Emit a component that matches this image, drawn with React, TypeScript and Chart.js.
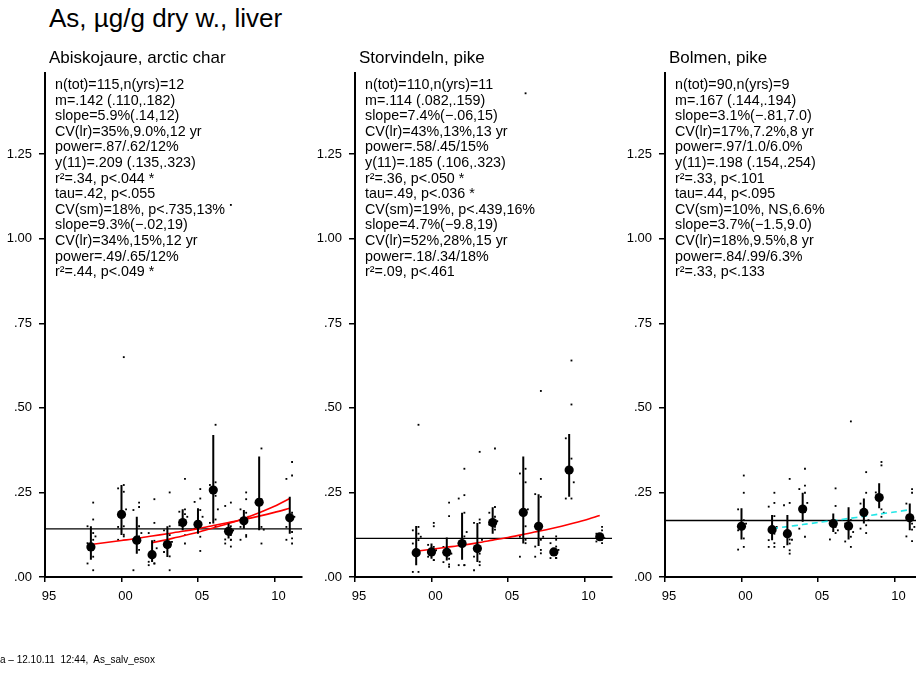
import React, { useEffect, useRef } from 'react';
import { Chart, registerables } from 'chart.js';
Chart.register(...registerables);

// ---------- axes ----------
const xTickValues = [1995, 2000, 2005, 2010];
const xTickLabels = ['95', '00', '05', '10'];
const yTickValues = [0, 0.25, 0.5, 0.75, 1.0, 1.25];
const yTickLabels = ['.00', '.25', '.50', '.75', '1.00', '1.25'];
const X_MIN = 1995;
const X_MAX = 2011.8;
const Y_MIN = 0;
const Y_MAX = 1.49;

const mainTitle = 'As, µg/g dry w., liver';
const footerText = 'a – 12.10.11  12:44,  As_salv_esox';

// ---------- panel 1: Abiskojaure, arctic char ----------
const p1Title = 'Abiskojaure, arctic char';
const p1Years = [1998, 2000, 2001, 2002, 2003, 2004, 2005, 2006, 2007, 2008, 2009, 2011];
const p1Means = [0.089, 0.185, 0.109, 0.066, 0.096, 0.161, 0.156, 0.257, 0.135, 0.166, 0.221, 0.175];
const p1Low = [0.051, 0.124, 0.069, 0.044, 0.059, 0.138, 0.128, 0.158, 0.114, 0.143, 0.138, 0.128];
const p1High = [0.150, 0.272, 0.178, 0.109, 0.150, 0.200, 0.203, 0.420, 0.158, 0.198, 0.356, 0.237];
const p1Dots = [
  [0.22, 0.17, 0.15, 0.13, 0.12, 0.11, 0.10, 0.09, 0.06, 0.04, 0.02],
  [0.65, 0.272, 0.262, 0.252, 0.20, 0.15, 0.148, 0.125, 0.12, 0.11],
  [0.22, 0.207, 0.198, 0.15, 0.13, 0.12, 0.11, 0.10, 0.08, 0.02],
  [0.23, 0.16, 0.13, 0.107, 0.085, 0.06, 0.045, 0.04, 0.04, 0.035],
  [0.25, 0.15, 0.138, 0.124, 0.104, 0.089, 0.074, 0.061, 0.02],
  [0.29, 0.20, 0.193, 0.186, 0.178, 0.168, 0.153, 0.124, 0.099],
  [0.26, 0.232, 0.222, 0.198, 0.178, 0.158, 0.143, 0.119, 0.077],
  [0.45, 0.28, 0.272, 0.24, 0.20, 0.17, 0.16, 0.15],
  [1.10, 0.22, 0.21, 0.15, 0.138, 0.124, 0.111, 0.11, 0.11, 0.099, 0.09],
  [0.25, 0.23, 0.20, 0.19, 0.178, 0.168, 0.148, 0.124, 0.119, 0.11],
  [0.38, 0.23, 0.22, 0.148, 0.14, 0.099],
  [0.34, 0.30, 0.29, 0.19, 0.178, 0.168, 0.148, 0.133, 0.114, 0.11, 0.099],
];
const p1Mean = 0.142;
const p1TrendAYears = [1998, 1999, 2000, 2001, 2002, 2003, 2004, 2005, 2006, 2007, 2008, 2009, 2010, 2011];
const p1TrendAValues = [0.096, 0.102, 0.108, 0.114, 0.121, 0.128, 0.135, 0.143, 0.152, 0.161, 0.170, 0.180, 0.191, 0.203];
const p1TrendBYears = [2002, 2003, 2004, 2005, 2006, 2007, 2008, 2009, 2010, 2011];
const p1TrendBValues = [0.101, 0.111, 0.121, 0.132, 0.145, 0.158, 0.173, 0.190, 0.209, 0.232];
const p1Stats = [
  'n(tot)=115,n(yrs)=12',
  'm=.142 (.110,.182)',
  'slope=5.9%(.14,12)',
  'CV(lr)=35%,9.0%,12 yr',
  'power=.87/.62/12%',
  'y(11)=.209 (.135,.323)',
  'r²=.34, p<.044 *',
  'tau=.42, p<.055',
  'CV(sm)=18%, p<.735,13%',
  'slope=9.3%(−.02,19)',
  'CV(lr)=34%,15%,12 yr',
  'power=.49/.65/12%',
  'r²=.44, p<.049 *',
];

// ---------- panel 2: Storvindeln, pike ----------
const p2Title = 'Storvindeln, pike';
const p2Years = [1999, 2000, 2001, 2002, 2003, 2004, 2006, 2007, 2008, 2009, 2011];
const p2Means = [0.072, 0.074, 0.073, 0.099, 0.084, 0.161, 0.191, 0.150, 0.074, 0.316, 0.119];
const p2Low = [0.035, 0.054, 0.049, 0.051, 0.044, 0.128, 0.099, 0.092, 0.064, 0.237, 0.111];
const p2High = [0.151, 0.099, 0.117, 0.190, 0.160, 0.206, 0.356, 0.245, 0.084, 0.423, 0.128];
const p2Dots = [
  [0.45, 0.148, 0.138, 0.128, 0.119, 0.109, 0.099, 0.079, 0.069, 0.015, 0.015],
  [0.16, 0.15, 0.095, 0.089, 0.079, 0.069, 0.06, 0.05, 0.05],
  [0.22, 0.18, 0.089, 0.079, 0.069, 0.054, 0.044, 0.037, 0.03],
  [0.32, 0.242, 0.232, 0.19, 0.133, 0.12, 0.10, 0.035, 0.035, 0.035],
  [0.37, 0.17, 0.16, 0.16, 0.11, 0.069, 0.06, 0.045, 0.035, 0.02],
  [0.38, 0.207, 0.19, 0.178, 0.165, 0.16, 0.155, 0.148, 0.14],
  [1.43, 0.32, 0.306, 0.28, 0.20, 0.15, 0.119, 0.11, 0.10, 0.06],
  [0.55, 0.29, 0.245, 0.237, 0.119, 0.11, 0.09, 0.08, 0.07, 0.06],
  [0.12, 0.11, 0.10, 0.09, 0.08, 0.056, 0.056, 0.056, 0.056],
  [0.64, 0.51, 0.41, 0.35, 0.28, 0.232, 0.232],
  [0.148, 0.138, 0.128, 0.12, 0.115, 0.11, 0.105, 0.10],
];
const p2Mean = 0.114;
const p2TrendYears = [1999, 2000, 2001, 2002, 2003, 2004, 2005, 2006, 2007, 2008, 2009, 2010, 2011];
const p2TrendValues = [0.076, 0.082, 0.088, 0.094, 0.101, 0.109, 0.117, 0.126, 0.135, 0.145, 0.156, 0.168, 0.182];
const p2Stats = [
  'n(tot)=110,n(yrs)=11',
  'm=.114 (.082,.159)',
  'slope=7.4%(−.06,15)',
  'CV(lr)=43%,13%,13 yr',
  'power=.58/.45/15%',
  'y(11)=.185 (.106,.323)',
  'r²=.36, p<.050 *',
  'tau=.49, p<.036 *',
  'CV(sm)=19%, p<.439,16%',
  'slope=4.7%(−9.8,19)',
  'CV(lr)=52%,28%,15 yr',
  'power=.18/.34/18%',
  'r²=.09, p<.461',
];

// ---------- panel 3: Bolmen, pike ----------
const p3Title = 'Bolmen, pike';
const p3Years = [2000, 2002, 2003, 2004, 2006, 2007, 2008, 2009, 2011];
const p3Means = [0.150, 0.140, 0.128, 0.201, 0.158, 0.151, 0.191, 0.235, 0.175];
const p3Low = [0.111, 0.109, 0.094, 0.163, 0.133, 0.111, 0.158, 0.203, 0.138];
const p3High = [0.203, 0.183, 0.183, 0.249, 0.188, 0.206, 0.232, 0.277, 0.217];
const p3Dots = [
  [0.30, 0.249, 0.20, 0.168, 0.158, 0.148, 0.138, 0.114, 0.089, 0.081],
  [0.249, 0.219, 0.208, 0.18, 0.148, 0.128, 0.109, 0.10, 0.089, 0.089],
  [0.29, 0.219, 0.212, 0.111, 0.11, 0.099, 0.089, 0.079, 0.069],
  [0.32, 0.27, 0.26, 0.249, 0.219, 0.193, 0.143, 0.119],
  [0.262, 0.21, 0.158, 0.148, 0.138, 0.13, 0.111],
  [0.46, 0.168, 0.158, 0.148, 0.133, 0.119, 0.105, 0.089],
  [0.31, 0.249, 0.217, 0.193, 0.168, 0.153, 0.143, 0.13],
  [0.34, 0.33, 0.25, 0.20, 0.19, 0.178],
  [0.26, 0.249, 0.217, 0.158, 0.148, 0.14, 0.12, 0.106],
];
const p3Mean = 0.167;
const p3TrendYears = [2002, 2003, 2004, 2005, 2006, 2007, 2008, 2009, 2010, 2011];
const p3TrendValues = [0.143, 0.149, 0.155, 0.161, 0.167, 0.173, 0.179, 0.186, 0.192, 0.199];
const p3Stats = [
  'n(tot)=90,n(yrs)=9',
  'm=.167 (.144,.194)',
  'slope=3.1%(−.81,7.0)',
  'CV(lr)=17%,7.2%,8 yr',
  'power=.97/1.0/6.0%',
  'y(11)=.198 (.154,.254)',
  'r²=.33, p<.101',
  'tau=.44, p<.095',
  'CV(sm)=10%, NS,6.6%',
  'slope=3.7%(−1.5,9.0)',
  'CV(lr)=18%,9.5%,8 yr',
  'power=.84/.99/6.3%',
  'r²=.33, p<.133',
];

// ---------- layout constants ----------
const FONT = '"Liberation Sans", Arial, Helvetica, sans-serif';
const Y_AXIS_W = 50;
const X_AXIS_H = 40;
const PLOT_TOP = 73;
const PLOT_BOTTOM = 577;
const PLOT_W = 257;
const PAD_RIGHT = 13;
const CANVAS_W = Y_AXIS_W + PLOT_W + PAD_RIGHT;
const CANVAS_H = 677;

type Trend = { years: number[]; values: number[]; color: string; dash: number[] };
type PanelProps = {
  axisX: number;
  title: string;
  years: number[];
  means: number[];
  low: number[];
  high: number[];
  dots: number[][];
  mean: number;
  trends: Trend[];
  stats: string[];
};

const jitter = [0.15, 0.15, -0.22, 0.15, 0.3, 0.15, -0.22];

function Panel(p: PanelProps) {
  const ref = useRef<HTMLCanvasElement | null>(null);
  useEffect(() => {
    const canvas = ref.current;
    if (!canvas) return;
    const dotPts: { x: number; y: number }[] = [];
    p.years.forEach((yr, i) => {
      p.dots[i].forEach((v, j) => dotPts.push({ x: yr + jitter[j % jitter.length], y: v }));
    });
    const barPts: { x: number; y: number | null }[] = [];
    p.years.forEach((yr, i) => {
      barPts.push({ x: yr, y: p.low[i] });
      barPts.push({ x: yr, y: p.high[i] });
      barPts.push({ x: yr, y: null });
    });
    const meanPts = p.years.map((yr, i) => ({ x: yr, y: p.means[i] }));
    const datasets: any[] = [
      {
        data: meanPts,
        showLine: false,
        pointRadius: 4.6,
        pointBorderWidth: 0,
        pointBackgroundColor: '#000',
        order: 0,
      },
      {
        data: barPts,
        showLine: true,
        spanGaps: false,
        borderColor: '#000',
        borderWidth: 2,
        pointRadius: 0,
        order: 1,
      },
      ...p.trends.map((t) => ({
        data: t.years.map((yr, i) => ({ x: yr, y: t.values[i] })),
        showLine: true,
        borderColor: t.color,
        borderWidth: 1.6,
        borderDash: t.dash,
        pointRadius: 0,
        tension: 0.3,
        order: 2,
      })),
      {
        data: dotPts,
        showLine: false,
        pointStyle: 'rect',
        pointRadius: 1.3,
        pointBorderWidth: 0,
        pointBackgroundColor: '#000',
        order: 3,
      },
      {
        data: [
          { x: X_MIN, y: p.mean },
          { x: X_MAX, y: p.mean },
        ],
        showLine: true,
        borderColor: '#000',
        borderWidth: 1.3,
        pointRadius: 0,
        order: 4,
      },
    ];
    const chart = new Chart(canvas, {
      type: 'line',
      data: { datasets },
      options: {
        responsive: false,
        animation: false,
        events: [],
        layout: { padding: { left: 0, right: PAD_RIGHT, top: PLOT_TOP, bottom: CANVAS_H - PLOT_BOTTOM - X_AXIS_H } },
        plugins: { legend: { display: false }, tooltip: { enabled: false }, title: { display: false } },
        scales: {
          x: {
            type: 'linear',
            min: X_MIN,
            max: X_MAX,
            afterBuildTicks: (s: any) => {
              s.ticks = xTickValues.map((v) => ({ value: v }));
            },
            afterFit: (s: any) => {
              s.height = X_AXIS_H;
            },
            ticks: {
              autoSkip: false,
              maxRotation: 0,
              labelOffset: 4,
              padding: 7,
              color: '#000',
              font: { family: FONT, size: 13 },
              callback: (v: any) => {
                const k = xTickValues.indexOf(Number(v));
                return k >= 0 ? xTickLabels[k] : '';
              },
            },
            grid: { drawOnChartArea: false, drawTicks: true, tickLength: 5, color: '#000', lineWidth: 1.5 },
            border: { display: true, color: '#000', width: 2 },
          },
          y: {
            type: 'linear',
            min: Y_MIN,
            max: Y_MAX,
            afterBuildTicks: (s: any) => {
              s.ticks = yTickValues.map((v) => ({ value: v }));
            },
            afterFit: (s: any) => {
              s.width = Y_AXIS_W;
            },
            ticks: {
              autoSkip: false,
              padding: 7,
              color: '#000',
              font: { family: FONT, size: 13 },
              callback: (v: any) => {
                const k = yTickValues.indexOf(Number(v));
                return k >= 0 ? yTickLabels[k] : '';
              },
            },
            grid: { drawOnChartArea: false, drawTicks: true, tickLength: 6, color: '#000', lineWidth: 1.5 },
            border: { display: true, color: '#000', width: 2 },
          },
        },
      } as any,
    });
    return () => chart.destroy();
  }, []);

  const left = p.axisX - Y_AXIS_W;
  return (
    <>
      <canvas
        ref={ref}
        width={CANVAS_W}
        height={CANVAS_H}
        style={{ position: 'absolute', left, top: 0, width: CANVAS_W, height: CANVAS_H }}
      />
      <div
        style={{
          position: 'absolute',
          left: p.axisX + 4,
          top: 49,
          font: `17px ${FONT}`,
          lineHeight: '17px',
          whiteSpace: 'pre',
          color: '#000',
        }}
      >
        {p.title}
      </div>
      <div
        style={{
          position: 'absolute',
          left: p.axisX + 10,
          top: 77,
          font: `14.3px ${FONT}`,
          lineHeight: '15.6px',
          whiteSpace: 'pre',
          color: '#000',
        }}
      >
        {p.stats.map((s, i) => (
          <div key={i}>{s}</div>
        ))}
      </div>
    </>
  );
}

export default function App() {
  return (
    <div
      style={{
        position: 'absolute',
        left: 0,
        top: 0,
        width: 916,
        height: 677,
        overflow: 'hidden',
        background: '#fff',
        fontFamily: FONT,
      }}
    >
      <div
        style={{
          position: 'absolute',
          left: 49,
          top: 5,
          font: `26px ${FONT}`,
          lineHeight: '26px',
          whiteSpace: 'pre',
          color: '#000',
        }}
      >
        {mainTitle}
      </div>
      <Panel
        axisX={45}
        title={p1Title}
        years={p1Years}
        means={p1Means}
        low={p1Low}
        high={p1High}
        dots={p1Dots}
        mean={p1Mean}
        trends={[
          { years: p1TrendAYears, values: p1TrendAValues, color: '#ff0000', dash: [] },
          { years: p1TrendBYears, values: p1TrendBValues, color: '#ff0000', dash: [] },
        ]}
        stats={p1Stats}
      />
      <Panel
        axisX={355}
        title={p2Title}
        years={p2Years}
        means={p2Means}
        low={p2Low}
        high={p2High}
        dots={p2Dots}
        mean={p2Mean}
        trends={[{ years: p2TrendYears, values: p2TrendValues, color: '#ff0000', dash: [] }]}
        stats={p2Stats}
      />
      <Panel
        axisX={665}
        title={p3Title}
        years={p3Years}
        means={p3Means}
        low={p3Low}
        high={p3High}
        dots={p3Dots}
        mean={p3Mean}
        trends={[{ years: p3TrendYears, values: p3TrendValues, color: '#22e6e6', dash: [6, 4] }]}
        stats={p3Stats}
      />
      <div
        style={{
          position: 'absolute',
          left: 0,
          top: 655,
          font: `10px ${FONT}`,
          lineHeight: '10px',
          whiteSpace: 'pre',
          color: '#000',
        }}
      >
        {footerText}
      </div>
    </div>
  );
}
